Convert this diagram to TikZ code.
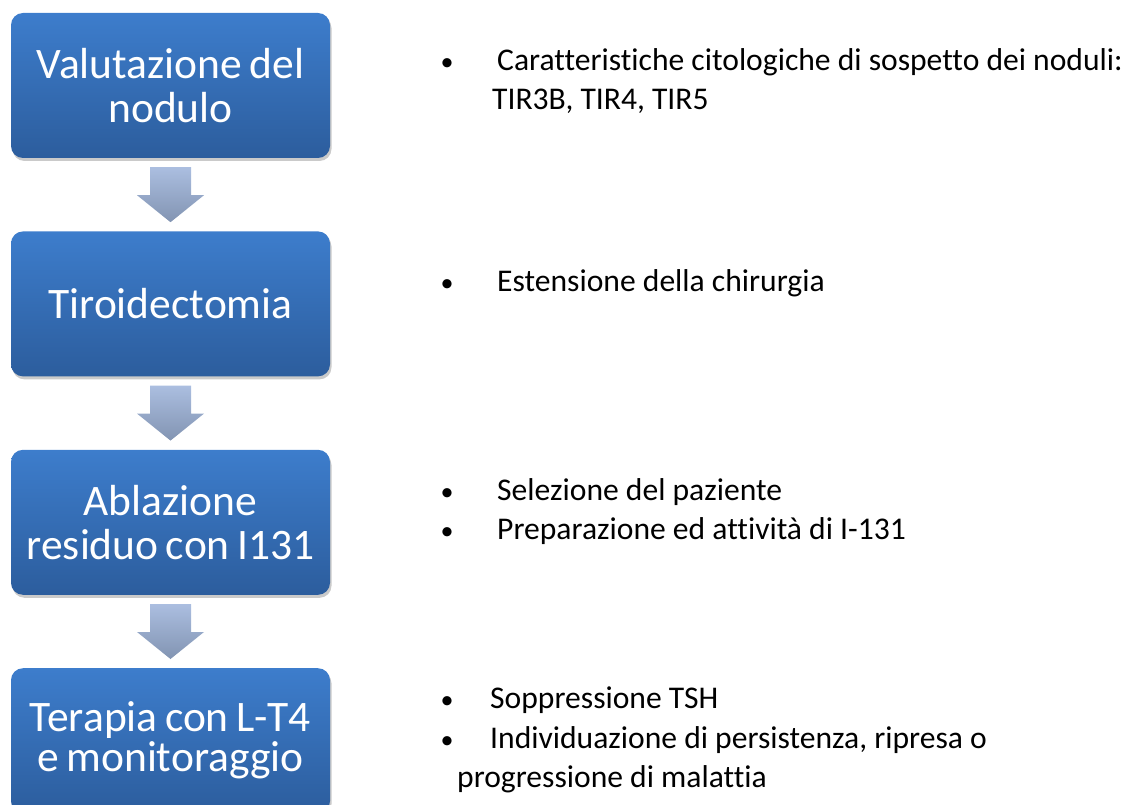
\documentclass[tikz,border=0pt]{standalone}
\usepackage{fontspec}
\setmainfont{Carlito}[Ligatures=NoCommon]
\newfontfamily\boxfont{Carlito}[Ligatures=NoCommon, WordSpace=0.75]
\usepackage{tikz}
\usetikzlibrary{positioning}
\usetikzlibrary{shadows}
\usetikzlibrary{calc}
\definecolor{boxtop}{RGB}{61,125,204}
\definecolor{boxbottom}{RGB}{44,93,157}
\definecolor{arrowtop}{RGB}{171,190,224}
\definecolor{arrowbottom}{RGB}{130,148,178}
\tikzset{
  stepbox/.style={rounded corners=12pt, minimum width=319pt, minimum height=145pt,
    top color=boxtop, bottom color=boxbottom, text=white, align=center,
    font=\boxfont\fontsize{43.5}{44}\selectfont,
    drop shadow={shadow xshift=1.5pt, shadow yshift=-3pt, opacity=0.35, fill=black!60}},
  bullet/.style={anchor=base, inner sep=0pt, font=\fontsize{26}{39}\selectfont},
  note/.style={anchor=base west, inner sep=0pt, font=\fontsize{31.6}{39}\selectfont},
}
\begin{document}
\begin{tikzpicture}[line cap=round,line join=round,x=1pt,y=-1pt,node distance=73pt]
\useasboundingbox (0,0) rectangle (1128,805);
\node [stepbox] (valutazione) at (170.5,85.5) {Valutazione del\\nodulo};
\node [stepbox, below=of valutazione] (tiroidectomia) {Tiroidectomia};
\node [stepbox, below=of tiroidectomia] (ablazione) {Ablazione\\residuo con I131};
\node [stepbox, below=of ablazione, font=\boxfont\fontsize{43.5}{40}\selectfont] (terapia) {Terapia con L-T4\\e monitoraggio};
\foreach \a/\b in {valutazione/tiroidectomia, tiroidectomia/ablazione, ablazione/terapia}
  \path [top color=arrowtop, bottom color=arrowbottom]
    ($(\a.south)+(-20.5,9)$) -- ($(\a.south)+(20.5,9)$) -- ($(\a.south)+(20.5,37)$)
    -- ($(\a.south)+(33.5,37)$) -- ($(\b.north)+(0,-9)$) -- ($(\a.south)+(-33.5,37)$)
    -- ($(\a.south)+(-20.5,37)$) -- cycle;
% note a destra dei passi
\node [bullet] (b1) at (447,71) {•};
\node [note] (n1a) at (497,71) {Caratteristiche citologiche di sospetto dei noduli:};
\node [note] (n1b) at (492,109.5) {TIR3B, TIR4, TIR5};
\node [bullet] (b2) at (447,292) {•};
\node [note] (n2) at (497,292) {Estensione della chirurgia};
\node [bullet] (b3a) at (447,500) {•};
\node [note] (n3a) at (497,500) {Selezione del paziente};
\node [bullet] (b3b) at (447,539) {•};
\node [note] (n3b) at (497,539) {Preparazione ed attività di I-131};
\node [bullet] (b4a) at (447,708.5) {•};
\node [note] (n4a) at (490,708.5) {Soppressione TSH};
\node [bullet] (b4b) at (447,748) {•};
\node [note] (n4b) at (490,748) {Individuazione di persistenza, ripresa o};
\node [note] (n4c) at (457,787.5) {progressione di malattia};
\end{tikzpicture}
\end{document}
